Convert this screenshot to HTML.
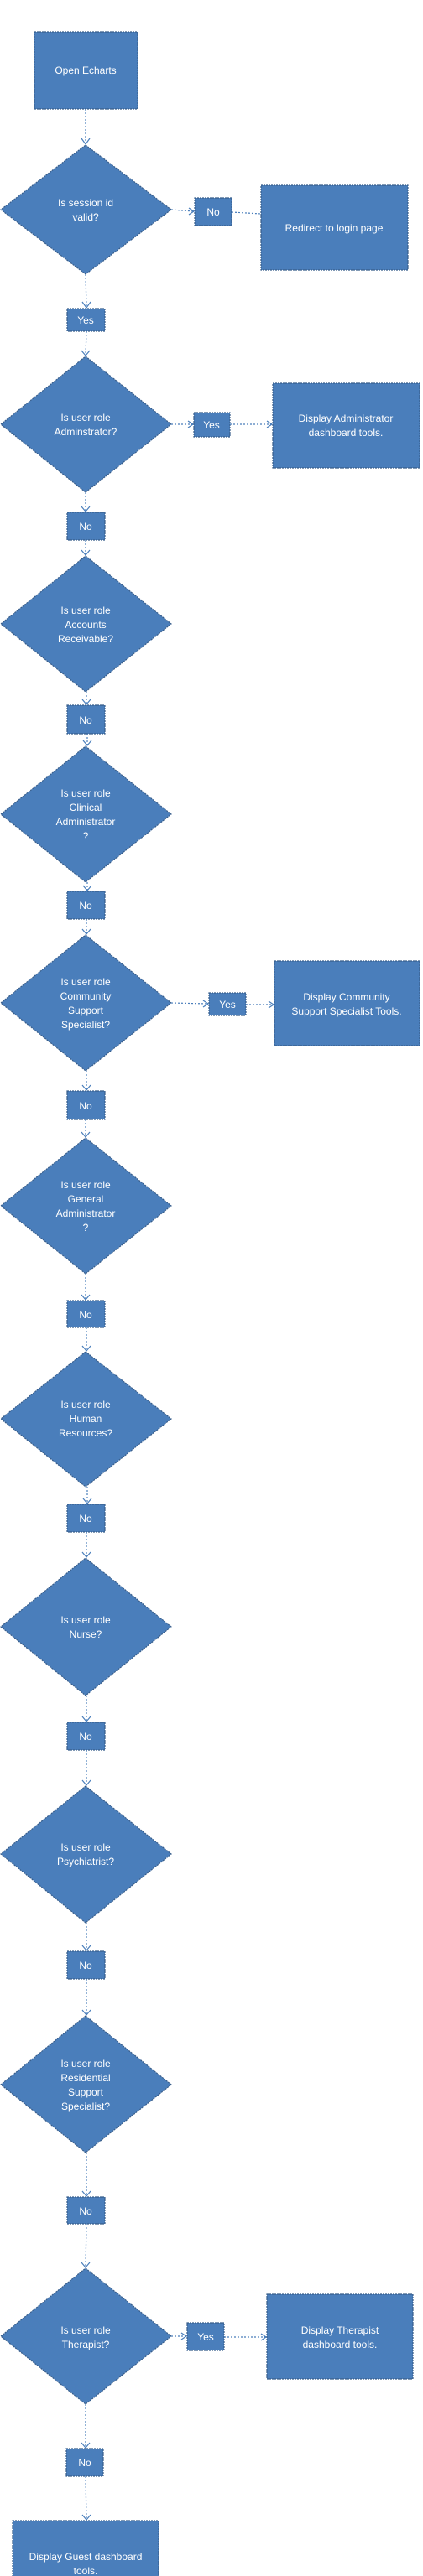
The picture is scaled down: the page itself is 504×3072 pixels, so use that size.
<!DOCTYPE html>
<html><head><meta charset="utf-8"><style>
html,body{margin:0;padding:0;background:#fff;}
svg{display:block;}
text{font-family:"Liberation Sans",sans-serif;font-size:12px;fill:#fff;text-anchor:middle;}
.s{fill:#4a7ebb;stroke:#385d8a;stroke-width:1.2;stroke-dasharray:2 1;}
.c{stroke:#4a7ebb;stroke-width:1.2;stroke-dasharray:2 2;fill:none;}
.a{stroke:#4a7ebb;stroke-width:1.2;fill:none;}
</style></head><body>
<svg width="504" height="3072" viewBox="0 0 504 3072" xmlns="http://www.w3.org/2000/svg">
<!-- Start -->
<rect class="s" x="41" y="38" width="123" height="92"/>
<text x="102" y="88">Open Echarts</text>
<line class="c" x1="102" y1="130" x2="102" y2="172"/><path class="a" d="M97,165 L102,172 L107,165"/>

<!-- D1 -->
<polygon class="s" points="102,173 204,250 102,327 1,250"/>
<text x="102" y="246">Is session id</text><text x="102" y="263">valid?</text>
<line class="c" x1="204" y1="250" x2="231" y2="252"/><path class="a" d="M225,248 L231,252 L225,256"/>
<rect class="s" x="232" y="236" width="44" height="33"/><text x="254" y="257">No</text>
<line class="c" x1="276" y1="253" x2="311" y2="255"/>
<rect class="s" x="311" y="221" width="175" height="101"/><text x="398" y="276">Redirect to login page</text>
<line class="c" x1="102" y1="327" x2="103" y2="367"/><path class="a" d="M98,360 L103,367 L108,360"/>
<rect class="s" x="80" y="368" width="45" height="27"/><text x="102" y="386">Yes</text>
<line class="c" x1="103" y1="395" x2="102" y2="424"/><path class="a" d="M97,418 L102,424 L107,418"/>

<!-- D2 -->
<polygon class="s" points="102,425 204,506 102,587 1,506"/>
<text x="102" y="502">Is user role</text><text x="102" y="519">Adminstrator?</text>
<line class="c" x1="204" y1="506" x2="230" y2="506"/><path class="a" d="M224,502 L230,506 L224,510"/>
<rect class="s" x="231" y="492" width="43" height="29"/><text x="252" y="511">Yes</text>
<line class="c" x1="274" y1="506" x2="324" y2="506"/><path class="a" d="M318,502 L324,506 L318,510"/>
<rect class="s" x="325" y="457" width="175" height="101"/>
<text x="412" y="503">Display Administrator</text><text x="412" y="520">dashboard tools.</text>
<line class="c" x1="102" y1="587" x2="102" y2="610"/><path class="a" d="M97,604 L102,610 L107,604"/>
<rect class="s" x="80" y="611" width="45" height="33"/><text x="102" y="632">No</text>
<line class="c" x1="102" y1="644" x2="102" y2="662"/><path class="a" d="M97,656 L102,662 L107,656"/>

<!-- D3 -->
<polygon class="s" points="102,663 204,744 102,825 1,744"/>
<text x="102" y="732">Is user  role</text><text x="102" y="749">Accounts</text><text x="102" y="766">Receivable?</text>
<line class="c" x1="103" y1="825" x2="103" y2="840"/><path class="a" d="M98,834 L103,840 L108,834"/>
<rect class="s" x="80" y="841" width="45" height="34"/><text x="102" y="863">No</text>
<line class="c" x1="104" y1="875" x2="104" y2="889"/><path class="a" d="M99,883 L104,889 L109,883"/>

<!-- D4 -->
<polygon class="s" points="102,890 204,971 102,1052 1,971"/>
<text x="102" y="950">Is user  role</text><text x="102" y="967">Clinical</text><text x="102" y="984">Administrator</text><text x="102" y="1001">?</text>
<line class="c" x1="104" y1="1052" x2="104" y2="1062"/><path class="a" d="M99,1056 L104,1062 L109,1056"/>
<rect class="s" x="80" y="1063" width="45" height="33"/><text x="102" y="1084">No</text>
<line class="c" x1="103" y1="1096" x2="103" y2="1114"/><path class="a" d="M98,1108 L103,1114 L108,1108"/>

<!-- D5 -->
<polygon class="s" points="102,1115 204,1196 102,1277 1,1196"/>
<text x="102" y="1175">Is user  role</text><text x="102" y="1192">Community</text><text x="102" y="1209">Support</text><text x="102" y="1226">Specialist?</text>
<line class="c" x1="204" y1="1196" x2="248" y2="1197"/><path class="a" d="M242,1193 L248,1197 L242,1201"/>
<rect class="s" x="249" y="1184" width="44" height="27"/><text x="271" y="1202">Yes</text>
<line class="c" x1="293" y1="1198" x2="326" y2="1198"/><path class="a" d="M320,1194 L326,1198 L320,1202"/>
<rect class="s" x="327" y="1146" width="173" height="101"/>
<text x="413" y="1193">Display  Community</text><text x="413" y="1210">Support Specialist Tools.</text>
<line class="c" x1="103" y1="1277" x2="103" y2="1300"/><path class="a" d="M98,1294 L103,1300 L108,1294"/>
<rect class="s" x="80" y="1301" width="45" height="34"/><text x="102" y="1323">No</text>
<line class="c" x1="102" y1="1335" x2="102" y2="1356"/><path class="a" d="M97,1350 L102,1356 L107,1350"/>

<!-- D6 -->
<polygon class="s" points="102,1357 204,1438 102,1519 1,1438"/>
<text x="102" y="1417">Is user  role</text><text x="102" y="1434">General</text><text x="102" y="1451">Administrator</text><text x="102" y="1468">?</text>
<line class="c" x1="102" y1="1519" x2="102" y2="1550"/><path class="a" d="M97,1544 L102,1550 L107,1544"/>
<rect class="s" x="80" y="1551" width="45" height="32"/><text x="102" y="1572">No</text>
<line class="c" x1="103" y1="1583" x2="103" y2="1611"/><path class="a" d="M98,1605 L103,1611 L108,1605"/>

<!-- D7 -->
<polygon class="s" points="102,1612 204,1692 102,1773 1,1692"/>
<text x="102" y="1679">Is user  role</text><text x="102" y="1696">Human</text><text x="102" y="1713">Resources?</text>
<line class="c" x1="104" y1="1773" x2="104" y2="1793"/><path class="a" d="M99,1787 L104,1793 L109,1787"/>
<rect class="s" x="80" y="1794" width="45" height="33"/><text x="102" y="1815">No</text>
<line class="c" x1="103" y1="1827" x2="103" y2="1857"/><path class="a" d="M98,1851 L103,1857 L108,1851"/>

<!-- D8 -->
<polygon class="s" points="102,1858 204,1940 102,2022 1,1940"/>
<text x="102" y="1936">Is user  role</text><text x="102" y="1953">Nurse?</text>
<line class="c" x1="103" y1="2022" x2="103" y2="2053"/><path class="a" d="M98,2047 L103,2053 L108,2047"/>
<rect class="s" x="80" y="2054" width="45" height="33"/><text x="102" y="2075">No</text>
<line class="c" x1="103" y1="2087" x2="103" y2="2129"/><path class="a" d="M98,2123 L103,2129 L108,2123"/>

<!-- D9 -->
<polygon class="s" points="102,2130 204,2211 102,2293 1,2211"/>
<text x="102" y="2207">Is user  role</text><text x="102" y="2224">Psychiatrist?</text>
<line class="c" x1="103" y1="2293" x2="103" y2="2326"/><path class="a" d="M98,2320 L103,2326 L108,2320"/>
<rect class="s" x="80" y="2327" width="45" height="33"/><text x="102" y="2348">No</text>
<line class="c" x1="103" y1="2360" x2="103" y2="2403"/><path class="a" d="M98,2397 L103,2403 L108,2397"/>

<!-- D10 -->
<polygon class="s" points="102,2404 204,2486 102,2567 1,2486"/>
<text x="102" y="2465">Is user  role</text><text x="102" y="2482">Residential</text><text x="102" y="2499">Support</text><text x="102" y="2516">Specialist?</text>
<line class="c" x1="103" y1="2567" x2="103" y2="2619"/><path class="a" d="M98,2613 L103,2619 L108,2613"/>
<rect class="s" x="80" y="2620" width="45" height="32"/><text x="102" y="2641">No</text>
<line class="c" x1="103" y1="2652" x2="102" y2="2704"/><path class="a" d="M97,2698 L102,2704 L107,2698"/>

<!-- D11 -->
<polygon class="s" points="102,2705 204,2786 102,2867 1,2786"/>
<text x="102" y="2783">Is user  role</text><text x="102" y="2800">Therapist?</text>
<line class="c" x1="204" y1="2786" x2="222" y2="2786"/><path class="a" d="M216,2782 L222,2786 L216,2790"/>
<rect class="s" x="223" y="2770" width="44" height="33"/><text x="245" y="2791">Yes</text>
<line class="c" x1="267" y1="2787" x2="317" y2="2787"/><path class="a" d="M311,2783 L317,2787 L311,2791"/>
<rect class="s" x="318" y="2736" width="174" height="101"/>
<text x="405" y="2783">Display Therapist</text><text x="405" y="2800">dashboard tools.</text>
<line class="c" x1="102" y1="2867" x2="102" y2="2919"/><path class="a" d="M97,2913 L102,2919 L107,2913"/>
<rect class="s" x="79" y="2920" width="44" height="33"/><text x="101" y="2941">No</text>
<line class="c" x1="102" y1="2953" x2="103" y2="3005"/><path class="a" d="M98,2999 L103,3005 L108,2999"/>

<!-- Guest -->
<rect class="s" x="15" y="3006" width="174" height="80"/>
<text x="102" y="3053">Display Guest dashboard</text><text x="102" y="3070">tools.</text>
</svg>
</body></html>
